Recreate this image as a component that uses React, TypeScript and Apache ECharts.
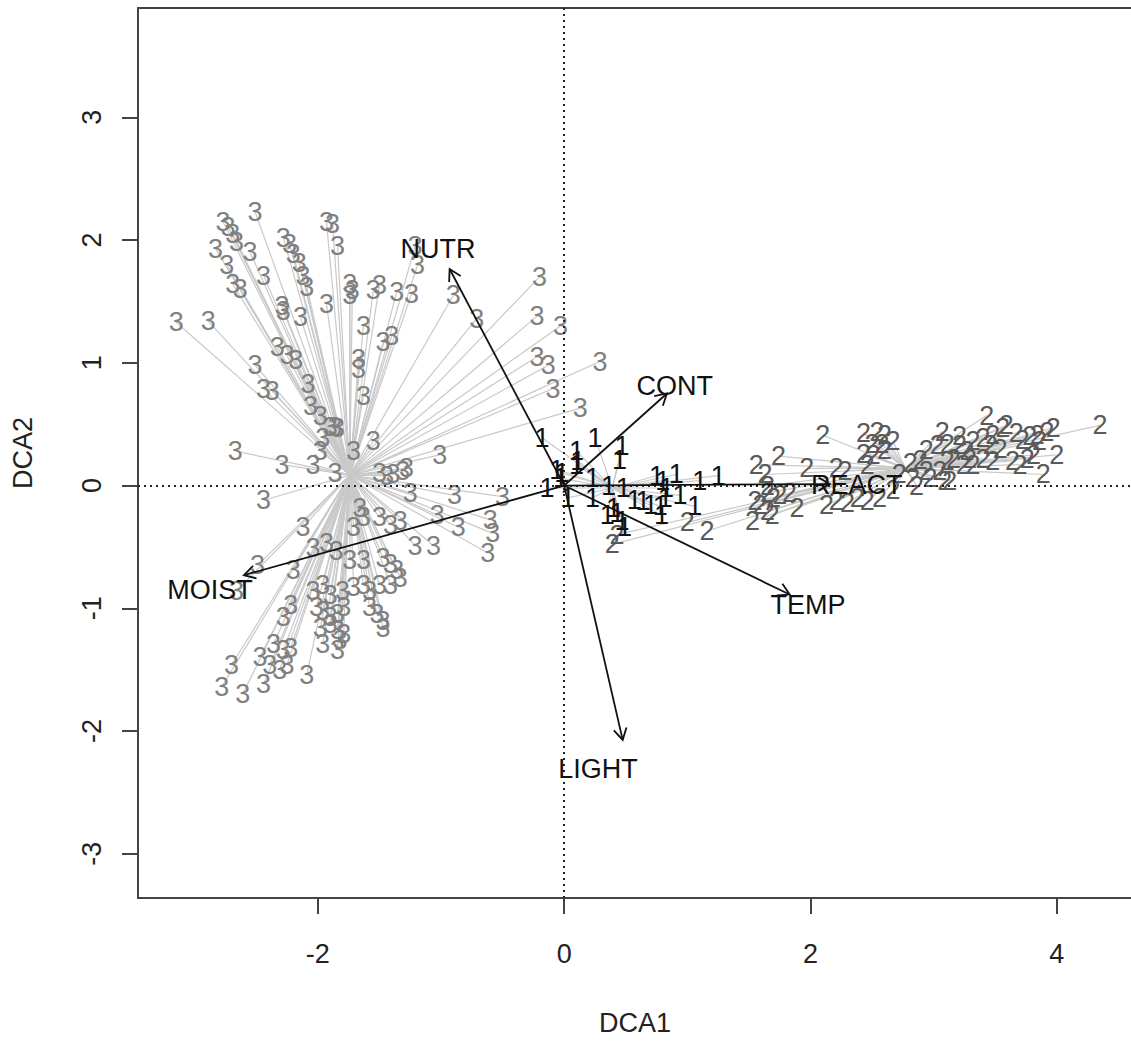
import React, { useEffect, useRef } from "react";
import * as echarts from "echarts";

const FONT = '"Liberation Sans", Arial, Helvetica, sans-serif';

const X_RANGE = [-3.46, 4.61];
const Y_RANGE = [-3.36, 3.89];
const X_TICKS = [-2, 0, 2, 4];
const Y_TICKS = [-3, -2, -1, 0, 1, 2, 3];

// site scores by group (DCA1, DCA2)
const GROUP1: number[][] = [
  [-0.18, 0.39], [-0.06, 0.13], [-0.02, 0.1], [-0.03, 0.06], [-0.14, -0.02], [0.03, -0.1],
  [0.1, 0.28], [0.11, 0.2], [0.1, 0.17], [0.25, 0.39], [0.47, 0.32], [0.45, 0.21],
  [0.23, 0.06], [0.23, -0.1], [0.36, 0.0], [0.48, -0.02], [0.35, -0.24], [0.4, -0.18],
  [0.43, -0.22], [0.47, -0.29], [0.49, -0.34], [0.57, -0.12], [0.64, -0.13], [0.7, -0.16],
  [0.78, -0.17], [0.82, -0.1], [0.83, -0.02], [0.8, 0.04], [0.75, 0.08], [0.91, 0.09],
  [0.94, -0.08], [0.79, -0.24], [1.1, 0.04], [1.06, -0.17], [1.25, 0.08],
];

const GROUP2: number[][] = [
  [2.1, 0.41], [2.43, 0.43], [2.54, 0.44], [2.6, 0.41], [2.5, 0.34], [2.58, 0.34], [2.67, 0.36],
  [2.43, 0.26], [2.51, 0.25], [2.6, 0.29], [2.46, 0.17], [1.56, 0.17], [1.74, 0.24], [1.63, 0.09],
  [1.65, 0.0], [1.65, -0.06], [1.97, 0.14], [2.21, 0.14], [2.28, 0.12], [1.55, -0.13], [1.65, -0.21],
  [1.69, -0.24], [1.75, -0.08], [1.83, -0.06], [1.89, -0.18], [1.53, -0.29], [1.16, -0.37],
  [2.13, -0.16], [2.21, -0.13], [2.3, -0.14], [2.38, -0.1], [2.46, -0.13], [2.56, -0.1], [2.67, -0.04],
  [2.72, 0.09], [2.81, 0.18], [2.89, 0.21], [2.86, 0.0], [2.97, 0.06], [3.05, 0.12], [2.94, 0.29],
  [3.03, 0.33], [3.11, 0.34], [3.07, 0.44], [3.11, 0.2], [3.16, 0.22], [3.24, 0.17], [3.32, 0.17],
  [3.13, 0.04], [3.21, 0.4], [3.32, 0.36], [3.4, 0.39], [3.48, 0.41], [3.56, 0.47], [3.43, 0.57],
  [3.29, 0.22], [3.4, 0.22], [3.48, 0.2], [3.59, 0.49], [3.67, 0.43], [3.72, 0.37], [3.78, 0.4],
  [3.84, 0.41], [3.92, 0.44], [3.97, 0.47], [3.64, 0.2], [3.7, 0.17], [3.76, 0.22], [3.81, 0.25],
  [3.86, 0.36], [4.0, 0.25], [3.89, 0.09], [4.35, 0.49], [3.46, 0.33], [3.54, 0.3], [3.21, 0.33],
  [3.27, 0.28], [2.94, 0.12], [2.83, 0.06], [3.09, 0.04], [0.39, -0.48], [1.0, -0.3], [0.43, -0.4],
  [1.59, -0.16], [1.7, -0.1],
];

const GROUP3: number[][] = [
  [-2.51, 2.23], [-2.77, 2.15], [-2.73, 2.11], [-2.69, 2.05], [-2.83, 1.93], [-2.66, 1.98], [-2.55, 1.9],
  [-2.74, 1.8], [-2.69, 1.64], [-2.63, 1.6], [-2.44, 1.71], [-2.28, 2.02], [-2.23, 1.97], [-2.2, 1.89],
  [-2.15, 1.81], [-2.12, 1.71], [-2.09, 1.62], [-1.93, 2.15], [-1.88, 2.13], [-1.84, 1.95], [-1.74, 1.64],
  [-1.72, 1.59], [-1.74, 1.55], [-1.93, 1.48], [-1.55, 1.59], [-1.5, 1.63], [-1.36, 1.58], [-1.24, 1.56],
  [-1.21, 1.95], [-1.19, 1.8], [-3.15, 1.33], [-2.89, 1.34], [-2.29, 1.46], [-2.28, 1.42], [-2.14, 1.37],
  [-1.63, 1.3], [-1.47, 1.17], [-1.4, 1.22], [-2.33, 1.13], [-2.25, 1.06], [-2.18, 1.02], [-2.51, 0.98],
  [-2.44, 0.79], [-2.37, 0.77], [-2.08, 0.83], [-1.67, 1.03], [-1.67, 0.95], [-1.63, 0.73], [-2.06, 0.65],
  [-1.98, 0.57], [-1.86, 0.48],
  [-0.9, 1.55], [-0.71, 1.36], [-0.2, 1.7], [-0.22, 1.38], [-0.03, 1.3], [-0.22, 1.05], [-0.13, 0.98],
  [-0.09, 0.79], [0.29, 1.01], [0.13, 0.63],
  [-2.67, 0.28], [-2.29, 0.17], [-2.04, 0.17], [-1.98, 0.28], [-1.96, 0.39], [-1.9, 0.48], [-1.84, 0.47],
  [-1.86, 0.1], [-1.71, 0.28], [-1.55, 0.36], [-2.44, -0.12], [-1.5, 0.1], [-1.44, 0.08], [-1.39, 0.09],
  [-1.31, 0.12], [-1.28, 0.14], [-1.01, 0.25], [-1.25, -0.06], [-0.89, -0.08], [-0.5, -0.09],
  [-1.66, -0.18], [-1.63, -0.26], [-1.71, -0.34], [-2.12, -0.34], [-1.5, -0.26], [-1.41, -0.32],
  [-1.33, -0.29], [-1.03, -0.24], [-0.86, -0.34], [-0.6, -0.28], [-0.58, -0.39], [-0.62, -0.55],
  [-1.21, -0.49], [-1.06, -0.49], [-2.04, -0.51], [-1.93, -0.47], [-1.85, -0.53], [-1.74, -0.61],
  [-1.63, -0.61], [-1.47, -0.59], [-1.41, -0.64], [-1.36, -0.69], [-1.33, -0.75], [-2.49, -0.65],
  [-2.2, -0.69], [-2.04, -0.86], [-1.96, -0.81], [-1.9, -0.89], [-1.8, -0.86], [-1.71, -0.83],
  [-1.63, -0.81], [-1.58, -0.86], [-1.5, -0.81], [-1.41, -0.81], [-2.66, -0.86], [-2.22, -0.97],
  [-2.01, -0.99], [-1.96, -1.02], [-1.9, -1.07], [-1.84, -1.05], [-1.79, -0.99], [-1.58, -0.99],
  [-1.52, -1.05], [-1.47, -1.1], [-1.47, -1.16], [-2.28, -1.07], [-1.98, -1.16], [-1.9, -1.13],
  [-1.84, -1.18], [-1.79, -1.21], [-1.82, -1.26], [-1.96, -1.29], [-1.84, -1.34], [-2.36, -1.29],
  [-2.28, -1.34], [-2.22, -1.32], [-2.47, -1.4], [-2.39, -1.46], [-2.31, -1.5], [-2.09, -1.54],
  [-2.7, -1.46], [-2.78, -1.64], [-2.61, -1.7], [-2.44, -1.62], [-2.25, -1.46],
];

const GROUP_NAMES = ["1", "2", "3"];
const GROUP_CENTROIDS: number[][] = [[0.39, -0.02], [2.77, 0.14], [-1.74, 0.085]];
const GROUP_COLORS = ["#111111", "#5a5a5a", "#808080"];

// environmental vectors
const ENV_NAMES = ["NUTR", "CONT", "REACT", "TEMP", "LIGHT", "MOIST"];
const ENV_X = [-0.93, 0.834, 2.157, 1.831, 0.475, -2.6];
const ENV_Y = [1.764, 0.75, 0.012, -0.888, -2.072, -0.73];
const ENV_LABEL_X = [-1.024, 0.898, 2.376, 1.98, 0.274, -2.875];
const ENV_LABEL_Y = [1.926, 0.807, 0.004, -0.97, -2.307, -0.847];

export default function App() {
  const ref = useRef<HTMLDivElement>(null);

  useEffect(() => {
    if (!ref.current) return;
    const chart = echarts.init(ref.current, undefined, { renderer: "svg" });

    const groups = [GROUP1, GROUP2, GROUP3];
    const spiderData: number[][] = [];
    groups.forEach((pts, gi) => {
      const c = GROUP_CENTROIDS[gi];
      pts.forEach((p) => spiderData.push([c[0], c[1], p[0], p[1]]));
    });

    const labelSeries = [2, 1, 0].map((gi) => ({
      type: "custom",
      name: "group" + GROUP_NAMES[gi],
      coordinateSystem: "cartesian2d",
      data: groups[gi],
      encode: { x: 0, y: 1 },
      z: 3,
      renderItem: (params: any, api: any) => {
        const p = api.coord([api.value(0), api.value(1)]);
        return {
          type: "text",
          x: p[0],
          y: p[1],
          style: {
            text: GROUP_NAMES[gi],
            fill: GROUP_COLORS[gi],
            fontSize: 27,
            fontFamily: FONT,
            align: "center",
            verticalAlign: "middle",
          },
        };
      },
    }));

    const envData = ENV_NAMES.map((n, i) => [0, 0, ENV_X[i], ENV_Y[i]]);
    const envLabelData = ENV_NAMES.map((n, i) => [ENV_LABEL_X[i], ENV_LABEL_Y[i], i]);

    const option: any = {
      animation: false,
      backgroundColor: "#ffffff",
      grid: {
        left: 138,
        top: 8,
        right: 3,
        bottom: 139,
        show: true,
        borderColor: "#444444",
        borderWidth: 2,
        backgroundColor: "transparent",
      },
      xAxis: {
        type: "value",
        min: X_RANGE[0],
        max: X_RANGE[1],
        axisLine: { show: false, onZero: false },
        splitLine: { show: false },
        axisTick: {
          show: true,
          customValues: X_TICKS,
          length: 16,
          lineStyle: { color: "#444444", width: 2 },
        },
        axisLabel: {
          customValues: X_TICKS,
          fontSize: 27,
          fontFamily: FONT,
          color: "#222222",
          margin: 42,
        },
        name: "DCA1",
        nameLocation: "middle",
        nameGap: 111,
        nameTextStyle: { fontSize: 27, fontFamily: FONT, color: "#222222" },
      },
      yAxis: {
        type: "value",
        min: Y_RANGE[0],
        max: Y_RANGE[1],
        axisLine: { show: false, onZero: false },
        splitLine: { show: false },
        axisTick: {
          show: true,
          customValues: Y_TICKS,
          length: 16,
          lineStyle: { color: "#444444", width: 2 },
        },
        axisLabel: {
          customValues: Y_TICKS,
          fontSize: 27,
          fontFamily: FONT,
          color: "#222222",
          margin: 33,
          rotate: 90,
        },
        name: "DCA2",
        nameLocation: "middle",
        nameGap: 102,
        nameTextStyle: { fontSize: 27, fontFamily: FONT, color: "#222222" },
      },
      series: [
        {
          type: "custom",
          name: "spider",
          coordinateSystem: "cartesian2d",
          data: spiderData,
          encode: { x: [0, 2], y: [1, 3] },
          z: 1,
          renderItem: (params: any, api: any) => {
            const a = api.coord([api.value(0), api.value(1)]);
            const b = api.coord([api.value(2), api.value(3)]);
            return {
              type: "line",
              shape: { x1: a[0], y1: a[1], x2: b[0], y2: b[1] },
              style: { stroke: "#c9c9c9", lineWidth: 1.2 },
            };
          },
          markLine: {
            silent: true,
            symbol: "none",
            label: { show: false },
            lineStyle: { color: "#222222", width: 2, type: [2, 4] },
            data: [{ xAxis: 0 }, { yAxis: 0 }],
          },
        },
        ...labelSeries,
        {
          type: "custom",
          name: "envfit",
          coordinateSystem: "cartesian2d",
          data: envData,
          encode: { x: [0, 2], y: [1, 3] },
          z: 5,
          renderItem: (params: any, api: any) => {
            const a = api.coord([api.value(0), api.value(1)]);
            const b = api.coord([api.value(2), api.value(3)]);
            const ang = Math.atan2(b[1] - a[1], b[0] - a[0]);
            const L = 13;
            const s = Math.PI / 6;
            const h1 = [b[0] - L * Math.cos(ang - s), b[1] - L * Math.sin(ang - s)];
            const h2 = [b[0] - L * Math.cos(ang + s), b[1] - L * Math.sin(ang + s)];
            return {
              type: "group",
              children: [
                {
                  type: "line",
                  shape: { x1: a[0], y1: a[1], x2: b[0], y2: b[1] },
                  style: { stroke: "#111111", lineWidth: 1.8 },
                },
                {
                  type: "polyline",
                  shape: { points: [h1, b, h2] },
                  style: { stroke: "#111111", lineWidth: 1.8, fill: "none" },
                },
              ],
            };
          },
        },
        {
          type: "custom",
          name: "envlabels",
          coordinateSystem: "cartesian2d",
          data: envLabelData,
          encode: { x: 0, y: 1 },
          z: 6,
          renderItem: (params: any, api: any) => {
            const p = api.coord([api.value(0), api.value(1)]);
            return {
              type: "text",
              x: p[0],
              y: p[1],
              style: {
                text: ENV_NAMES[api.value(2)],
                fill: "#111111",
                fontSize: 27,
                fontFamily: FONT,
                align: "center",
                verticalAlign: "middle",
              },
            };
          },
        },
      ],
    };

    chart.setOption(option);
    return () => chart.dispose();
  }, []);

  return (
    <div
      ref={ref}
      style={{ position: "fixed", left: 0, top: 0, width: 1135, height: 1041, background: "#fff" }}
    />
  );
}
